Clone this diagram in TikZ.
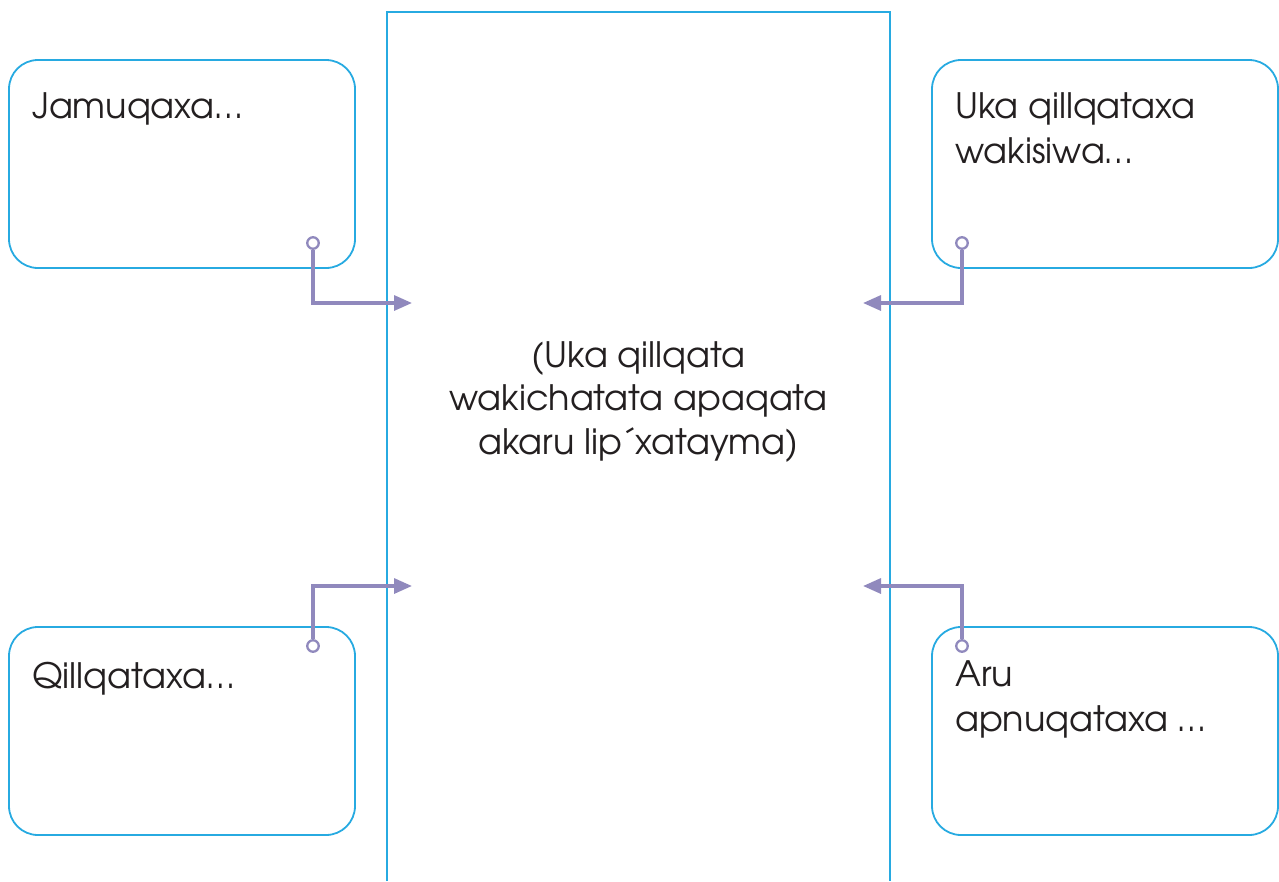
\documentclass[tikz,border=0pt]{standalone}
\usepackage{fontspec}
\setmainfont{texgyreadventor-regular.otf}
\usetikzlibrary{arrows.meta}
\definecolor{frameblue}{HTML}{27AAE1}
\definecolor{linkpurple}{HTML}{9089BD}
\definecolor{inkgray}{HTML}{231F20}
\tikzset{
  box/.style={draw=frameblue, line width=1.8pt, rounded corners=29pt, minimum width=346pt, minimum height=208pt, inner sep=0pt},
  label/.style={anchor=base west, inner sep=0pt, text=inkgray, align=left, font=\fontsize{35}{44.5}\selectfont},
  dot/.style={circle, draw=linkpurple, fill=white, line width=2.3pt, minimum size=11.5pt, inner sep=0pt},
  link/.style={draw=linkpurple, line width=3.2pt, -{Triangle[length=18pt,width=15pt]}},
}
\begin{document}
\begin{tikzpicture}[x=1pt,y=-1pt]
\useasboundingbox (0,0) rectangle (1279,881);
% central frame (open at the bottom)
\draw[frameblue, line width=1.8pt] (387,881) -- (387,12) -- (890,12) -- (890,881);
% anchor=base refers to the last line of a multi-line node
\node[anchor=base, inner sep=0pt, text=inkgray, align=center, font=\fontsize{35}{43.5}\selectfont] (centre) at (638.5,454)
  {(Uka qillqata\\wakichatata apaqata\\akaru lip´xatayma)};
% boxes
\node[box] (tl) at (182,164) {};
\node[box] (tr) at (1105,164) {};
\node[box] (bl) at (182,731) {};
\node[box] (br) at (1105,731) {};
% labels
\node[label] (tltext) at (32,118) {Jamuqaxa…};
\node[label] (trtext) at (955,163) {Uka qillqataxa\\wakisiwa…};
\node[label] (bltext) at (32,688) {Qillqataxa…};
\node[label] (brtext) at (955,731) {Aru\\apnuqataxa …};
% connectors
\coordinate (tlend) at (412,303);
\coordinate (trend) at (863,303);
\coordinate (blend) at (412,586);
\coordinate (brend) at (863,586);
\node[dot] (tldot) at (313,243) {};
\node[dot] (trdot) at (962,243) {};
\node[dot] (bldot) at (313,646) {};
\node[dot] (brdot) at (962,646) {};
\draw[link] (tldot) |- (tlend);
\draw[link] (trdot) |- (trend);
\draw[link] (bldot) |- (blend);
\draw[link] (brdot) |- (brend);
\end{tikzpicture}
\end{document}
